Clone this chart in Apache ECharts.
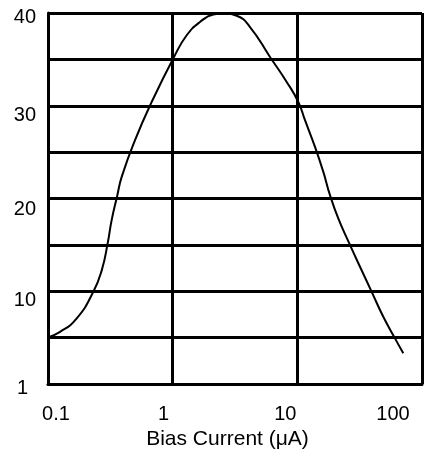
<!DOCTYPE html>
<html>
<head>
<meta charset="utf-8">
<script src="https://cdn.jsdelivr.net/npm/echarts@6/dist/echarts.min.js"></script>
<style>
  html, body { margin: 0; padding: 0; background: #fff; }
  #main { width: 433px; height: 461px; }
</style>
</head>
<body>
<div id="main"></div>
<script>
// bias current (uA), log scale
var biasCurrent = [0.0917, 0.125, 0.17, 0.231, 0.27, 0.301, 0.324, 0.36, 0.39, 0.499, 0.679, 1.025, 1.296, 1.656, 2.118, 2.547, 3.264, 4.173, 6.036, 8.216, 10.18, 11.52, 13.86, 16.16, 18.28, 21.3, 26.11, 31.81, 39.49, 48.93, 60.73, 70.79];
var gainValues  = [4.85, 5.63, 7.08, 9.94, 12.28, 15.16, 17.67, 20.36, 22.33, 26.29, 30.41, 35.26, 37.6, 39.03, 39.84, 39.95, 39.7, 38.49, 35.26, 32.57, 30.41, 28.44, 25.56, 22.87, 20.36, 17.85, 15.16, 12.64, 9.94, 7.25, 4.92, 3.31];

var xTicks = [0.1, 1, 10, 100];
var xTickLabels = ['0.1', '1', '10', '100'];
var yTicks = [0, 10, 20, 30, 40];
var yTickLabels = ['1', '10', '20', '30', '40'];

// label nudges to match the original drawing
var xShift = [8, -9, -12, -29];
var yShift = [4, 9, 11, 10, 4];
var yRight = [8, 0, 0, 0, -2];

var chartDom = document.getElementById('main');
var myChart = echarts.init(chartDom);

var xRich = {};
xTicks.forEach(function (t, i) {
  var s = xShift[i];
  xRich['x' + i] = {
    fontSize: 20, fontFamily: 'Liberation Sans', color: '#000',
    padding: [0, s < 0 ? -2 * s : 0, 0, s > 0 ? 2 * s : 0]
  };
});
var yRich = {};
yTicks.forEach(function (t, i) {
  yRich['y' + i] = {
    fontSize: 20, fontFamily: 'Liberation Sans', color: '#000',
    padding: [2 * yShift[i], yRight[i] > 0 ? yRight[i] : 0, 0, 0]
  };
});

var data = biasCurrent.map(function (x, i) { return [x, gainValues[i]]; });

var option = {
  animation: false,
  backgroundColor: '#fff',
  grid: { left: 48, right: 11, top: 13, bottom: 77 },
  xAxis: {
    type: 'log',
    logBase: 10,
    min: 0.1,
    max: 100,
    name: 'Bias Current (μA)',
    nameLocation: 'middle',
    nameGap: 45,
    nameTextStyle: {
      fontSize: 21, fontFamily: 'Liberation Sans', color: '#000',
      padding: [0, 15, 0, 0]
    },
    axisLine: { show: true, lineStyle: { color: '#000', width: 3 } },
    axisTick: { show: false },
    axisLabel: {
      margin: 20,
      formatter: function (v) {
        for (var i = 0; i < xTicks.length; i++) {
          if (Math.abs(Math.log10(v) - Math.log10(xTicks[i])) < 1e-6) {
            return '{x' + i + '|' + xTickLabels[i] + '}';
          }
        }
        return '';
      },
      rich: xRich
    },
    splitLine: { show: true, lineStyle: { color: '#000', width: 3 } }
  },
  yAxis: {
    type: 'value',
    min: 0,
    max: 40,
    interval: 5,
    axisLine: { show: true, lineStyle: { color: '#000', width: 3 } },
    axisTick: { show: false },
    axisLabel: {
      margin: 12,
      formatter: function (v) {
        var i = yTicks.indexOf(v);
        return i < 0 ? '' : '{y' + i + '|' + yTickLabels[i] + '}';
      },
      rich: yRich
    },
    splitLine: { show: true, lineStyle: { color: '#000', width: 3 } }
  },
  series: [
    {
      type: 'line',
      data: data,
      smooth: 0.5,
      clip: false,
      showSymbol: false,
      lineStyle: { color: '#000', width: 2 }
    }
  ]
};

myChart.setOption(option);
</script>
</body>
</html>
